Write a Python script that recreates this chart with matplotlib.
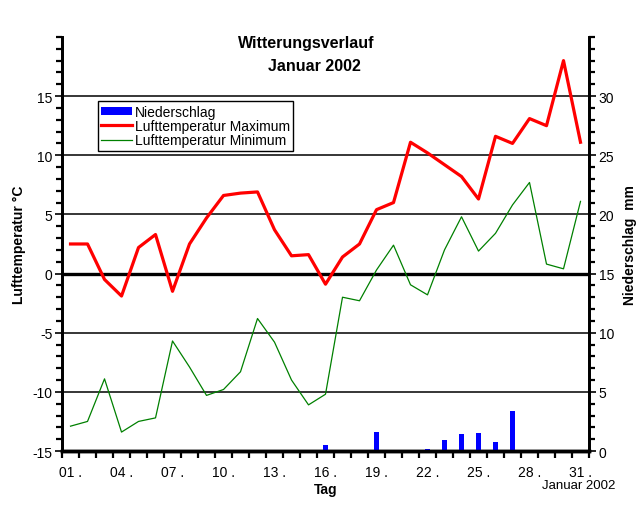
import numpy as np
import matplotlib
matplotlib.use('Agg')
import matplotlib.pyplot as plt
from matplotlib.patches import Patch
from matplotlib.lines import Line2D
from matplotlib.ticker import MultipleLocator, FixedLocator

# daily values, January 2002
days = list(range(1, 32))
temp_max = [2.5, 2.5, -0.5, -1.9, 2.2, 3.3, -1.5, 2.5, 4.7, 6.6, 6.8, 6.9, 3.7, 1.5, 1.6, -0.9,
            1.4, 2.5, 5.4, 6.0, 11.1, 10.2, 9.2, 8.2, 6.3, 11.6, 11.0, 13.1, 12.5, 18.0, 11.1]
temp_min = [-12.9, -12.5, -8.9, -13.4, -12.5, -12.2, -5.7, -7.9, -10.3, -9.8, -8.3, -3.8, -5.8, -9.0, -11.1, -10.2,
            -2.0, -2.3, 0.3, 2.4, -0.95, -1.8, 2.0, 4.8, 1.9, 3.4, 5.8, 7.7, 0.8, 0.4, 6.1]
precip_days = [16, 19, 22, 23, 24, 25, 26, 27]
precip = [0.5, 1.6, 0.2, 0.9, 1.4, 1.5, 0.8, 3.4]
tick_days = [1, 4, 7, 10, 13, 16, 19, 22, 25, 28, 31]
tick_labels = ['%02d .' % d for d in tick_days]

plt.rcParams['font.family'] = ['Liberation Sans', 'DejaVu Sans']
plt.rcParams['axes.unicode_minus'] = False

fig = plt.figure(figsize=(6.44, 5.06), dpi=100)
ax = fig.add_axes([0.0963, 0.1067, 0.8183, 0.8183])
ax2 = ax.twinx()

# temperature lines on left axis
ax.plot(days, temp_max, color='#ff0000', lw=2.3, zorder=3)
ax.plot(days, temp_min, color='#008000', lw=0.9, zorder=3)

# grid lines at major ticks, zero line thicker
for lev in [-10, -5, 5, 10, 15]:
    ax.axhline(lev, color='black', lw=1.1, zorder=1)
ax.axhline(0, color='black', lw=2.4, zorder=1)

ax.set_xlim(0.5, 31.5)
ax.set_ylim(-15, 20)
ax.yaxis.set_major_locator(FixedLocator([-15, -10, -5, 0, 5, 10, 15]))
ax.yaxis.set_minor_locator(MultipleLocator(1))
ax.set_xticks(tick_days)
ax.set_xticklabels(tick_labels)
ax.xaxis.set_minor_locator(FixedLocator(np.arange(0.5, 32, 1)))
ax.tick_params(axis='x', which='major', length=0, pad=10, labelsize=10)
ax.tick_params(axis='x', which='minor', length=5, width=1.6, direction='out')
ax.tick_params(axis='y', which='major', length=5, width=1.2, labelsize=10, pad=2)
ax.tick_params(axis='y', which='minor', length=4, width=1.6)

# precipitation bars on right axis
ax2.bar(precip_days, precip, width=0.25, color='#0000ff', zorder=2)
ax2.set_ylim(0, 35)
ax2.yaxis.set_major_locator(FixedLocator([0, 5, 10, 15, 20, 25, 30]))
ax2.yaxis.set_minor_locator(MultipleLocator(1))
ax2.tick_params(axis='y', which='major', length=5, width=1.2, labelsize=10, pad=2)
ax2.tick_params(axis='y', which='minor', length=4, width=1.6)

for a in (ax, ax2):
    a.spines['top'].set_visible(False)
    a.spines['left'].set_linewidth(2)
    a.spines['right'].set_linewidth(2)
    a.spines['bottom'].set_linewidth(2.5)

ax.set_ylabel('Lufttemperatur °C', fontsize=10, fontweight='bold')
ax.yaxis.set_label_coords(-0.068, 0.5)
ax2.set_ylabel('Niederschlag  mm', fontsize=10, fontweight='bold')
ax2.yaxis.set_label_coords(1.064, 0.5)
ax.set_xlabel('Tag', fontsize=10, fontweight='bold', labelpad=2)

fig.text(0.476, 0.915, 'Witterungsverlauf', ha='center', va='center', fontsize=11.5, fontweight='bold')
fig.text(0.4876, 0.869, 'Januar 2002', ha='center', va='center', fontsize=11.5, fontweight='bold')
fig.text(0.898, 0.040, 'Januar 2002', ha='center', va='center', fontsize=9.5)

handles = [Patch(facecolor='#0000ff', edgecolor='none'),
           Line2D([], [], color='#ff0000', lw=2.3),
           Line2D([], [], color='#008000', lw=0.9)]
labels = ['Niederschlag', 'Lufttemperatur Maximum', 'Lufttemperatur Minimum']
leg = ax2.legend(handles, labels, loc='upper left', bbox_to_anchor=(0.068, 0.845), borderaxespad=0,
                 fontsize=10, frameon=True, fancybox=False, framealpha=1, edgecolor='black',
                 handlelength=2.2, handleheight=0.5, handletextpad=0.2, labelspacing=0.02,
                 borderpad=0.25)
leg.get_frame().set_linewidth(1)

fig.savefig('out.png', dpi=100)
